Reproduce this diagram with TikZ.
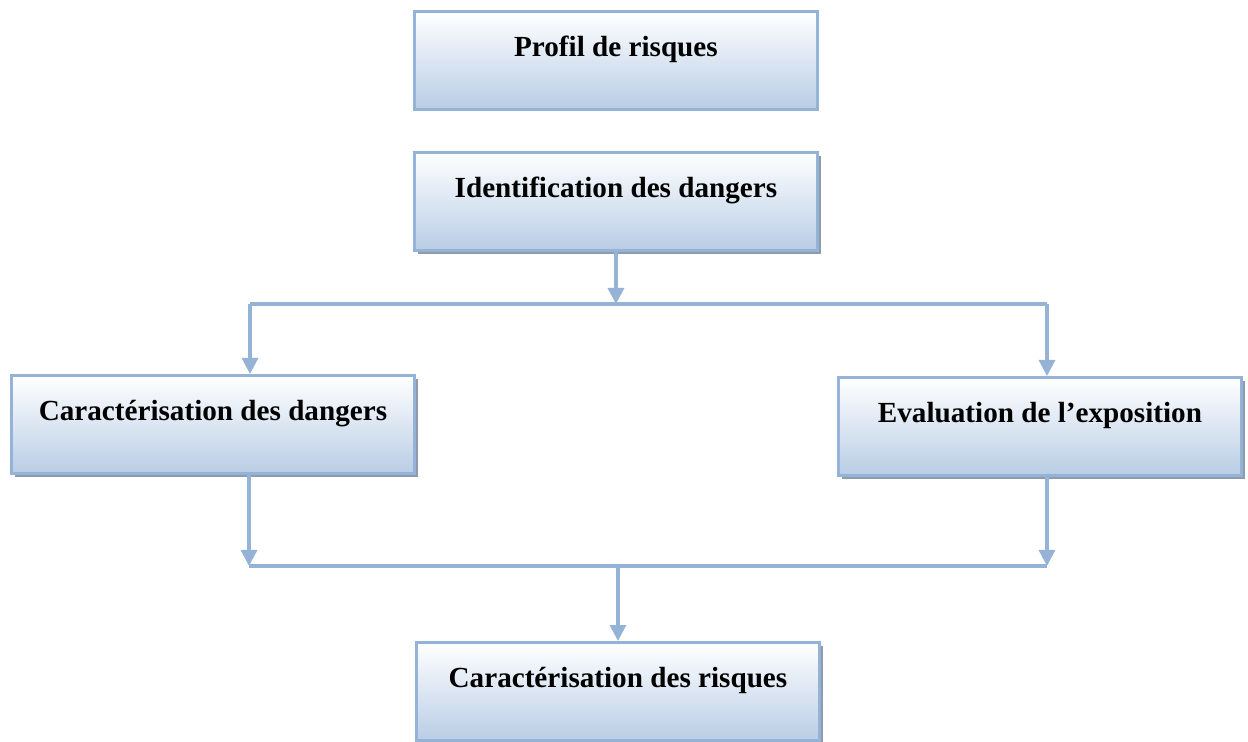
\documentclass[tikz,border=0pt]{standalone}
\usepackage{fontspec}
\setmainfont{Liberation Serif}
\usetikzlibrary{arrows.meta,shadows}
\definecolor{linkblue}{RGB}{149,179,215}
\definecolor{boxblue}{RGB}{185,205,229}
\definecolor{shadegray}{RGB}{142,155,172}
\begin{document}
\begin{tikzpicture}[x=0.02cm,y=-0.02cm,
  stage/.style={draw=linkblue,line width=0.06cm,top color=white,bottom color=boxblue,
    minimum width=8.06cm,inner xsep=0pt,inner ysep=0pt,text height=0.9cm,text depth=1.06cm,
    anchor=north west,font=\fontsize{16.6}{20}\selectfont\bfseries},
  dropped/.style={drop shadow={shadow xshift=0.07cm,shadow yshift=-0.07cm,opacity=1,fill=shadegray}},
  link/.style={draw=linkblue,line width=0.065cm},
  tip/.style={-{Triangle[width=0.32cm,length=0.32cm]}}]
\useasboundingbox (0,0) rectangle (1248,742);
\node[stage] (profil) at (413,10) {Profil de risques};
\node[stage,dropped] (ident) at (413,151) {Identification des dangers};
\node[stage,dropped] (cdang) at (10,374) {Caractérisation des dangers};
\node[stage,dropped] (expo) at (837,376) {Evaluation de l’exposition};
\node[stage,dropped] (crisk) at (415,641) {Caractérisation des risques};
\coordinate (split) at (616,304);
\coordinate (splitL) at (250,304);
\coordinate (splitR) at (1047,304);
\coordinate (joinL) at (249,566);
\coordinate (joinR) at (1047,566);
\draw[link,tip] (ident.south) -- (ident.south |- split);
\draw[link] (splitL) -- (splitR);
\draw[link,tip] (splitL) -- (splitL |- cdang.north);
\draw[link,tip] (splitR) -- (splitR |- expo.north);
\draw[link,tip] (cdang.south -| joinL) -- (joinL);
\draw[link,tip] (expo.south -| joinR) -- (joinR);
\draw[link] (joinL) -- (joinR);
\draw[link,tip] (crisk.north |- joinL) -- (crisk.north);
\end{tikzpicture}
\end{document}
